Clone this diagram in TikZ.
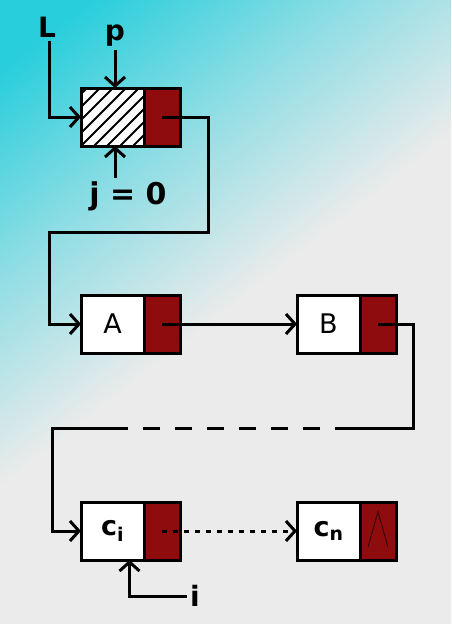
\documentclass[tikz,border=0pt]{standalone}
\usepackage{fontspec}
\setmainfont{DejaVu Sans}
\usetikzlibrary{arrows.meta,positioning}

\definecolor{bgcyan}{RGB}{40,206,220}
\definecolor{bggray}{RGB}{235,235,235}
\definecolor{ptrred}{RGB}{142,12,14}
\pgfdeclarehorizontalshading{bgshade}{100bp}{color(0bp)=(bgcyan); color(20bp)=(bgcyan); color(34bp)=(bgcyan!50!bggray); color(50bp)=(bggray); color(100bp)=(bggray)}

\tikzset{
  datafield/.style={draw, line width=3pt, fill=white, minimum width=63pt,
    minimum height=58pt, inner sep=0pt, outer sep=0pt,
    font=\fontsize{27}{27}\selectfont},
  ptrfield/.style={draw, line width=3pt, fill=ptrred, minimum width=36pt,
    minimum height=58pt, inner sep=0pt, outer sep=0pt},
  link/.style={line width=3pt, -{Straight Barb[length=9pt,width=20pt]}},
  lbl/.style={font=\bfseries\fontsize{28}{28}\selectfont},
  hatch/.style={line width=2pt}
}

\begin{document}
\begin{tikzpicture}[x=1pt, y=-1pt]
  \useasboundingbox (0,0) rectangle (451,624);
  \shade[shading=bgshade, shading angle=-52] (0,0) rectangle (451,624);

  % head node
  \node[datafield] (h) at (112.5,117) {};
  \node[ptrfield, right=0pt of h] (hp) {};
  \begin{scope}
    \clip (h.south west) rectangle (h.north east);
    \foreach \x in {16,29,...,150}
      \draw[hatch] (\x,146) -- ++(58,-58);
  \end{scope}
  \draw[line width=3pt] (h.south west) rectangle (h.north east);

  % list nodes
  \node[datafield] (a) at (112.5,324) {A};
  \node[ptrfield, right=0pt of a] (ap) {};
  \node[datafield] (b) at (328.5,324) {B};
  \node[ptrfield, right=0pt of b] (bp) {};
  \node[datafield] (c) at (112.5,531) {\bfseries c\textsubscript{i}};
  \node[ptrfield, right=0pt of c] (cp) {};
  \node[datafield] (n) at (328.5,531) {\bfseries c\textsubscript{n}};
  \node[ptrfield, right=0pt of n] (np) {};
  \draw[line width=1pt, black!60!ptrred]
    ([xshift=-10pt,yshift=-16pt]np.center) -- ([yshift=19pt]np.center)
    -- ([xshift=10pt,yshift=-16pt]np.center);

  % labels
  \node[lbl] (L) at (47,27) {L};
  \node[lbl] (p) at (115,36) {p};
  \node[lbl, font=\bfseries\fontsize{30}{30}\selectfont] (j) at (128,196) {j = 0};
  \node[lbl] (i) at (195,596) {i};

  % pointers
  \draw[link] ([xshift=2pt]L.south) |- (h.west);
  \draw[link] (p.south) -- (p.south |- h.north);
  \draw[link] (j.north -| p) -- (p |- h.south);
  \draw[link] (hp.center) -| (208,232) -| ([xshift=-32pt]a.west) -- (a.west);
  \draw[link] (ap.center) -- (b.west);
  \coordinate (gapR) at (335,428);
  \coordinate (gapL) at (126,428);
  \draw[line width=3pt] (bp.center) -| (413,428) -- (gapR);
  \draw[line width=3pt, dash pattern=on 17pt off 15pt, dash phase=17pt]
    (gapR) -- (gapL);
  \draw[link] (gapL) -| ([xshift=-29pt]c.west) -- (c.west);
  \draw[link, dash pattern=on 5pt off 6pt] (cp.center) -- (n.west);
  \draw[link] (i.west) -| ([xshift=17pt]c.south);
\end{tikzpicture}
\end{document}
